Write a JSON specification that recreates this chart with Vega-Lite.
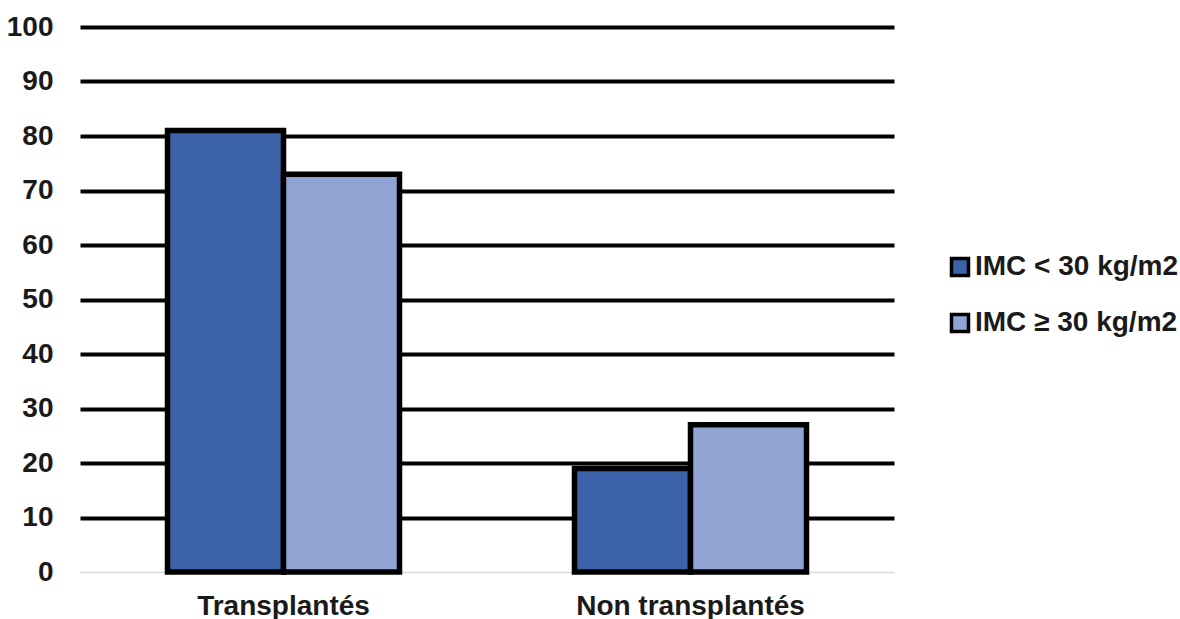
{
  "$schema": "https://vega.github.io/schema/vega-lite/v6.json",
  "autosize": "none",
  "width": 814,
  "height": 545,
  "padding": {"left": 80, "top": 27, "right": 286, "bottom": 47},
  "background": "white",
  "config": {
    "view": {"stroke": null},
    "font": "Liberation Sans"
  },
  "data": {
    "values": [
      {"groupe": "Transplantés", "imc": "IMC < 30 kg/m2", "valeur": 81},
      {"groupe": "Transplantés", "imc": "IMC ≥ 30 kg/m2", "valeur": 73},
      {"groupe": "Non transplantés", "imc": "IMC < 30 kg/m2", "valeur": 19},
      {"groupe": "Non transplantés", "imc": "IMC ≥ 30 kg/m2", "valeur": 27}
    ]
  },
  "mark": {"type": "bar", "stroke": "black", "strokeWidth": 5.5, "strokeJoin": "miter"},
  "encoding": {
    "x": {
      "field": "groupe",
      "type": "nominal",
      "sort": ["Transplantés", "Non transplantés"],
      "scale": {"paddingInner": 0.43, "paddingOuter": 0.215},
      "axis": {
        "title": null,
        "labelAngle": 0,
        "labelFont": "Liberation Sans",
        "labelFontWeight": "bold",
        "labelFontSize": 28,
        "labelColor": "#1a1a1a",
        "labelPadding": 20,
        "labelLimit": 500,
        "labelOverlap": false,
        "ticks": false,
        "tickSize": 0,
        "domain": true,
        "domainColor": "#d9d9d9",
        "domainWidth": 1.5,
        "grid": false
      }
    },
    "xOffset": {
      "field": "imc",
      "type": "nominal",
      "scale": {"paddingInner": 0, "paddingOuter": 0}
    },
    "y": {
      "field": "valeur",
      "type": "quantitative",
      "scale": {"domain": [0, 100], "nice": false},
      "axis": {
        "title": null,
        "values": [0, 10, 20, 30, 40, 50, 60, 70, 80, 90, 100],
        "labelFont": "Liberation Sans",
        "labelFontWeight": "bold",
        "labelFontSize": 28,
        "labelColor": "#1a1a1a",
        "labelPadding": 27,
        "ticks": false,
        "tickSize": 0,
        "domain": false,
        "grid": true,
        "gridColor": {"condition": {"test": "datum.value === 0", "value": "transparent"}, "value": "black"},
        "gridWidth": 4,
        "gridOpacity": 1
      }
    },
    "color": {
      "field": "imc",
      "type": "nominal",
      "scale": {"domain": ["IMC < 30 kg/m2", "IMC ≥ 30 kg/m2"], "range": ["#3c63a9", "#90a4d4"]},
      "legend": {
        "title": null,
        "orient": "none",
        "legendX": 866,
        "legendY": 226,
        "padding": 0,
        "symbolType": "square",
        "symbolSize": 290,
        "symbolStrokeColor": "black",
        "symbolStrokeWidth": 3.5,
        "symbolOpacity": 1,
        "labelFont": "Liberation Sans",
        "labelFontWeight": "bold",
        "labelFontSize": 28,
        "labelColor": "#1a1a1a",
        "labelOffset": 1,
        "rowPadding": 24,
        "labelLimit": 400
      }
    }
  }
}
